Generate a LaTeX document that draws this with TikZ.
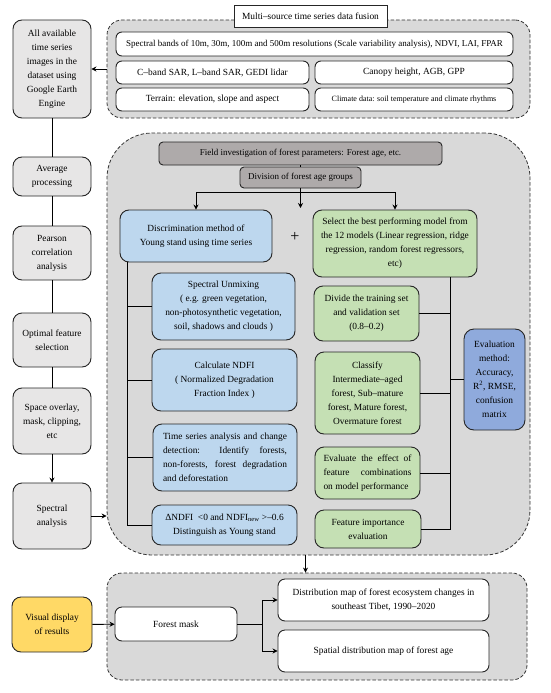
\documentclass[tikz,border=0pt]{standalone}
\usepackage{fontspec}
\setmainfont{Liberation Serif}
\usepackage{tikz}
\usetikzlibrary{shapes.geometric, arrows.meta, positioning, arrows}
\definecolor{leftgray}{RGB}{231,230,230}
\definecolor{boxgray}{RGB}{217,217,217}
\definecolor{darkgray}{RGB}{174,170,170}
\definecolor{lightblue}{RGB}{189,215,238}
\definecolor{lightgreen}{RGB}{197,224,180}
\definecolor{midblue}{RGB}{143,170,220}
\definecolor{gold}{RGB}{255,217,102}
\hyphenpenalty=10000
\tikzset{
    base/.style={rectangle, rounded corners=7pt, draw=black!85, line width=0.9pt, align=center, inner sep=2pt, font=\fontsize{9.4}{14}\selectfont},
    container/.style={rectangle, rounded corners=15pt, draw=black!80, line width=0.8pt, dash pattern=on 3.5pt off 2pt, fill=boxgray},
    titlebox/.style={base, rounded corners=0pt, fill=white},
    rowbox/.style={base, rounded corners=6pt, fill=white, minimum height=23pt},
    leftbox/.style={base, rounded corners=9pt, fill=leftgray, minimum width=78pt},
    darkbox/.style={base, rounded corners=4pt, fill=darkgray, font=\fontsize{9}{14}\selectfont},
    bluebox/.style={base, rounded corners=9pt, fill=lightblue},
    greenbox/.style={base, rounded corners=9pt, fill=lightgreen},
    evalbox/.style={base, rounded corners=10pt, fill=midblue},
    yellowbox/.style={base, rounded corners=9pt, fill=gold},
    whitebox/.style={base, rounded corners=7pt, fill=white},
    conn/.style={line width=0.9pt},
    arrow/.style={conn, ->, >={Stealth[length=5pt,width=5pt]}},
}
\begin{document}
\begin{tikzpicture}[x=1pt, y=-1pt]
  \useasboundingbox (0,0) rectangle (550,693);

  \node[container, minimum width=423pt, minimum height=98pt] (fusion) at (318.5,69) {};
  \node[titlebox, minimum width=153pt, minimum height=22pt] (title) at (310.5,16) {Multi--source time series data fusion};
  \node[rowbox, minimum width=397pt, minimum height=24pt, font=\fontsize{9}{14}\selectfont] (bands) at (314.5,44) {Spectral bands of 10m, 30m, 100m and 500m resolutions (Scale variability analysis), NDVI, LAI, FPAR};
  \node[rowbox, minimum width=193pt] (sar) at (212.5,72.5) {C--band SAR, L--band SAR, GEDI lidar};
  \node[rowbox, minimum width=198pt] (canopy) at (414,72.5) {Canopy height, AGB, GPP};
  \node[rowbox, minimum width=193pt] (terrain) at (212.5,99.5) {Terrain: elevation, slope and aspect};
  \node[rowbox, minimum width=198pt, font=\fontsize{8}{10}\selectfont] (climate) at (414,99.5) {Climate data: soil temperature and climate rhythms};

  \node[leftbox, minimum height=98pt] (gee) at (52,69) {All available\\time series\\images in the\\dataset using\\Google Earth\\Engine};
  \node[leftbox, minimum height=39pt] (avg) at (52,176.5) {Average\\processing};
  \node[leftbox, minimum height=54pt] (pearson) at (52,253) {Pearson\\correlation\\analysis};
  \node[leftbox, minimum height=54pt] (optimal) at (52,340) {Optimal feature\\selection};
  \node[leftbox, minimum height=66pt] (overlay) at (52,421) {Space overlay,\\mask, clipping,\\etc};
  \node[leftbox, minimum height=66pt] (spectral) at (52,516) {Spectral\\analysis};

  \node[container, rounded corners=45pt, minimum width=423pt, minimum height=422pt] (mid) at (318.5,344) {};
  \node[darkbox, minimum width=283pt, minimum height=23pt] (field) at (300.5,153.5) {Field investigation of forest parameters: Forest age, etc.};
  \node[darkbox, minimum width=121pt, minimum height=21pt] (groups) at (300.5,177.5) {Division of forest age groups};
  \node[bluebox, minimum width=152pt, minimum height=52pt] (young) at (196,236) {Discrimination method of\\Young stand using time series};
  \node[greenbox, minimum width=164pt, minimum height=67pt] (select) at (395,243.5) {Select the best performing model from\\the 12 models (Linear regression, ridge\\regression, random forest regressors,\\etc)};
  \node[font=\fontsize{16}{16}\selectfont] (plus) at (295,237) {+};

  \node[bluebox, minimum width=143pt, minimum height=67pt] (unmix) at (223.5,306.5) {Spectral Unmixing\\( e.g. green vegetation,\\non-photosynthetic vegetation,\\soil, shadows and clouds )};
  \node[bluebox, minimum width=145pt, minimum height=62pt] (ndfi) at (224.5,380) {Calculate NDFI\\( Normalized Degradation\\Fraction Index )};
  \node[bluebox, minimum width=144pt, minimum height=67pt, text width=124pt, align=justify] (change) at (225,457.5) {Time series analysis and change detection: Identify forests, \mbox{non-forests}, forest degradation and deforestation};
  \node[bluebox, minimum width=145pt, minimum height=40pt] (criterion) at (224.5,525) {ΔNDFI~~<0 and NDFI\textsubscript{new} >--0.6\\Distinguish as Young stand};

  \node[greenbox, minimum width=105pt, minimum height=55pt] (trainset) at (366.5,313.5) {Divide the training set\\and validation set\\(0.8--0.2)};
  \node[greenbox, minimum width=105pt, minimum height=82pt] (classify) at (367.5,393) {Classify\\Intermediate--aged\\forest, Sub--mature\\forest, Mature forest,\\Overmature forest};
  \node[greenbox, minimum width=105pt, minimum height=52pt, text width=88pt, align=justify] (effect) at (367.5,473) {Evaluate the effect of feature combinations on model performance};
  \node[greenbox, minimum width=106pt, minimum height=38pt] (importance) at (368,529) {Feature importance\\evaluation};
  \node[evalbox, minimum width=61pt, minimum height=101pt] (eval) at (494.5,379.5) {Evaluation\\method:\\Accuracy,\\R\textsuperscript{2}, RMSE,\\confusion\\matrix};

  \node[container, minimum width=420pt, minimum height=107pt] (output) at (317,626.5) {};
  \node[yellowbox, minimum width=80pt, minimum height=55pt] (visual) at (52,624.5) {Visual display\\of results};
  \node[whitebox, minimum width=122pt, minimum height=34pt] (mask) at (176,624) {Forest mask};
  \node[whitebox, minimum width=211pt, minimum height=42pt] (dist) at (383.5,600) {Distribution map of forest ecosystem changes in\\southeast Tibet, 1990--2020};
  \node[whitebox, minimum width=211pt, minimum height=42pt] (agemap) at (383.5,651) {Spatial distribution map of forest age};

  \coordinate (branch) at (300.5,192);
  \coordinate (plustip) at (300.5,208);
  \coordinate (bspine) at (127,262);
  \coordinate (gspine) at (450,277);
  \coordinate (fork) at (262,624);

  \draw[arrow] (fusion.west |- gee.east) -- (gee.east);
  \draw[conn] (gee) -- (avg) -- (pearson) -- (optimal) -- (overlay);
  \draw[arrow] (overlay) -- (spectral);
  \draw[arrow] (spectral.east) -- (spectral.east -| mid.west);

  \draw[conn] (field) -- (groups);
  \draw[conn] (groups.south) -- (branch);
  \draw[arrow] (branch) -| (young.north);
  \draw[arrow] (branch) -| (select.north);
  \draw[arrow] (branch) -- (plustip);

  \draw[conn] (bspine) |- (unmix.west);
  \draw[conn] (bspine) |- (ndfi.west);
  \draw[conn] (bspine) |- (change.west);
  \draw[conn] (bspine) |- (criterion.west);

  \draw[conn] (gspine) |- (trainset.east);
  \draw[conn] (gspine) |- (classify.east);
  \draw[conn] (gspine) |- (effect.east);
  \draw[conn] (gspine) |- (importance.east);
  \draw[conn] (eval.west) -- (eval.west -| gspine);

  \draw[arrow] ([xshift=-13pt]mid.south) -- ([xshift=-13pt]mid.south |- output.north);
  \draw[arrow] (visual) -- (mask);
  \draw[conn] (mask) -- (fork);
  \draw[arrow] (fork) |- (dist.west);
  \draw[arrow] (fork) |- (agemap.west);
\end{tikzpicture}
\end{document}
